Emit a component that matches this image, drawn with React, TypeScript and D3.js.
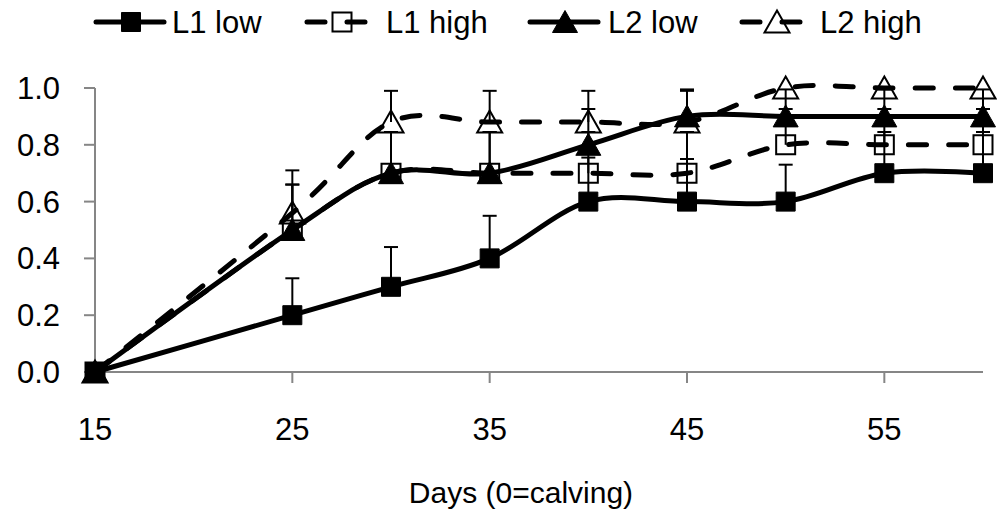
import { useEffect, useRef } from 'react';
import * as d3 from 'd3';

// days after calving
const days = [15, 25, 30, 35, 40, 45, 50, 55, 60];

const l1Low = [0, 0.2, 0.3, 0.4, 0.6, 0.6, 0.6, 0.7, 0.7];
const l1LowErr = [0, 0.13, 0.14, 0.15, 0.155, 0.15, 0.13, 0.145, 0.145];
const l1High = [0, 0.5, 0.7, 0.7, 0.7, 0.7, 0.8, 0.8, 0.8];
const l1HighErr = [0, 0.16, 0.145, 0.145, 0.145, 0.145, 0.126, 0.126, 0.126];
const l2Low = [0, 0.5, 0.7, 0.7, 0.8, 0.9, 0.9, 0.9, 0.9];
const l2LowErr = [0, 0.16, 0.145, 0.145, 0.126, 0.095, 0.095, 0.095, 0.095];
const l2High = [0, 0.56, 0.88, 0.88, 0.88, 0.88, 1, 1, 1];
const l2HighErr = [0, 0.15, 0.11, 0.11, 0.11, 0.11, 0, 0, 0];

const seriesNames = ['L1 low', 'L1 high', 'L2 low', 'L2 high'];
const xTicks = [15, 25, 35, 45, 55];
const yTicks = [0, 0.2, 0.4, 0.6, 0.8, 1.0];

const series = [
  { name: seriesNames[0], values: l1Low, err: l1LowErr, shape: 'square', filled: true, dashed: false },
  { name: seriesNames[1], values: l1High, err: l1HighErr, shape: 'square', filled: false, dashed: true },
  { name: seriesNames[2], values: l2Low, err: l2LowErr, shape: 'triangle', filled: true, dashed: false },
  { name: seriesNames[3], values: l2High, err: l2HighErr, shape: 'triangle', filled: false, dashed: true },
];

const FONT = '"Liberation Sans", Arial, sans-serif';
const AXIS = '#868686';

function markerPath(shape: string) {
  if (shape === 'square') return 'M-9.5,-9.5H9.5V9.5H-9.5Z';
  return 'M0,-11.5L12.5,10.5H-12.5Z';
}

function drawMarker(g: any, shape: string, filled: boolean, x: number, y: number) {
  g.append('path')
    .attr('d', markerPath(shape))
    .attr('transform', `translate(${x},${y})`)
    .attr('fill', filled ? '#000' : 'none')
    .attr('stroke', '#000')
    .attr('stroke-width', filled ? 1 : 2);
}

export default function App() {
  const ref = useRef<SVGSVGElement>(null);

  useEffect(() => {
    const svg = d3.select(ref.current);
    svg.selectAll('*').remove();

    const x = d3.scaleLinear().domain([15, 60]).range([95, 983]);
    const y = d3.scaleLinear().domain([0, 1]).range([372, 88]);

    // axes
    svg.append('line')
      .attr('x1', x(15)).attr('x2', x(15)).attr('y1', y(1)).attr('y2', y(0))
      .attr('stroke', AXIS).attr('stroke-width', 2);
    svg.append('line')
      .attr('x1', x(15)).attr('x2', x(60)).attr('y1', y(0)).attr('y2', y(0))
      .attr('stroke', AXIS).attr('stroke-width', 2);

    svg.selectAll('.ytick')
      .data(yTicks)
      .join('line')
      .attr('class', 'ytick')
      .attr('x1', x(15) - 11).attr('x2', x(15))
      .attr('y1', d => y(d)).attr('y2', d => y(d))
      .attr('stroke', AXIS).attr('stroke-width', 2);

    svg.selectAll('.ylab')
      .data(yTicks)
      .join('text')
      .attr('class', 'ylab')
      .attr('x', 60)
      .attr('y', d => y(d) + 11)
      .attr('text-anchor', 'end')
      .style('font-family', FONT).style('font-size', '31px')
      .text(d => d3.format('.1f')(d));

    svg.selectAll('.xtick')
      .data(xTicks)
      .join('line')
      .attr('class', 'xtick')
      .attr('x1', d => x(d)).attr('x2', d => x(d))
      .attr('y1', y(0)).attr('y2', y(0) + 11)
      .attr('stroke', AXIS).attr('stroke-width', 2);

    svg.selectAll('.xlab')
      .data(xTicks)
      .join('text')
      .attr('class', 'xlab')
      .attr('x', d => x(d))
      .attr('y', 440)
      .attr('text-anchor', 'middle')
      .style('font-family', FONT).style('font-size', '31px')
      .text(d => d);

    svg.append('text')
      .attr('x', 521).attr('y', 503)
      .attr('text-anchor', 'middle')
      .style('font-family', FONT).style('font-size', '30px')
      .text('Days (0=calving)');

    const line = d3.line<number>()
      .x((d, i) => x(days[i]))
      .y(d => y(d))
      .curve(d3.curveCatmullRom.alpha(0));

    // lines
    series.forEach(s => {
      svg.append('path')
        .attr('d', line(s.values))
        .attr('fill', 'none')
        .attr('stroke', '#000')
        .attr('stroke-width', 5)
        .attr('stroke-linecap', 'round')
        .attr('stroke-dasharray', s.dashed ? '18 22' : null);
    });

    // error bars (upper only)
    series.forEach(s => {
      s.values.forEach((v, i) => {
        if (!s.err[i]) return;
        const cx = x(days[i]);
        const top = y(v + s.err[i]);
        svg.append('line')
          .attr('x1', cx).attr('x2', cx).attr('y1', y(v)).attr('y2', top)
          .attr('stroke', '#000').attr('stroke-width', 2);
        svg.append('line')
          .attr('x1', cx - 7).attr('x2', cx + 7).attr('y1', top).attr('y2', top)
          .attr('stroke', '#000').attr('stroke-width', 2);
      });
    });

    // markers
    series.forEach(s => {
      const g = svg.append('g');
      s.values.forEach((v, i) => drawMarker(g, s.shape, s.filled, x(days[i]), y(v)));
    });

    // legend
    const legendX = [96, 307, 530, 742];
    const legendTextX = [172, 386, 608, 820];
    series.forEach((s, i) => {
      const g = svg.append('g');
      g.append('line')
        .attr('x1', legendX[i]).attr('x2', legendX[i] + 68)
        .attr('y1', 22).attr('y2', 22)
        .attr('stroke', '#000').attr('stroke-width', 5)
        .attr('stroke-linecap', 'round')
        .attr('stroke-dasharray', s.dashed ? '18 22' : null);
      drawMarker(g, s.shape, s.filled, legendX[i] + 35, 22);
      g.append('text')
        .attr('x', legendTextX[i]).attr('y', 33)
        .style('font-family', FONT).style('font-size', '31px')
        .text(s.name);
    });
  }, []);

  return (
    <svg ref={ref} width={997} height={522}
      style={{ position: 'absolute', left: 0, top: 0, background: '#fff' }} />
  );
}
